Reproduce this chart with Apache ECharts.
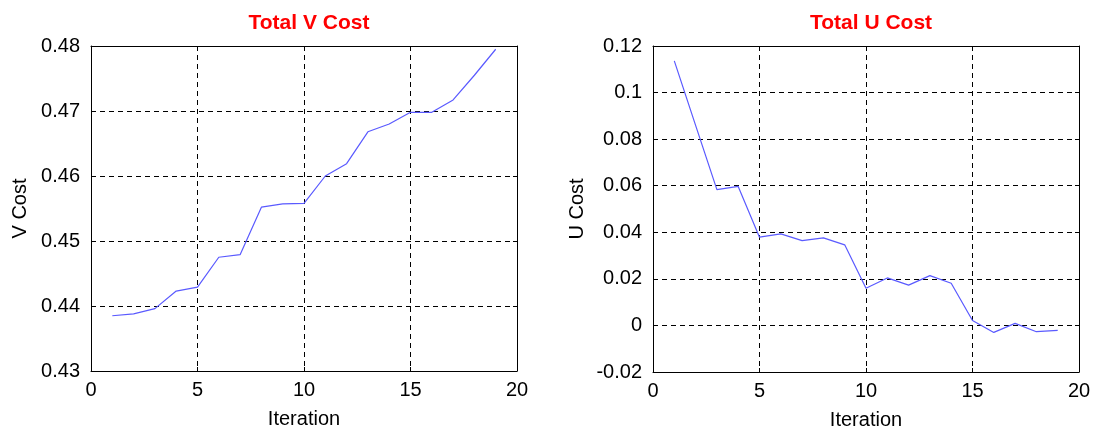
<!DOCTYPE html>
<html><head><meta charset="utf-8">
<script src="https://cdn.jsdelivr.net/npm/echarts@6/dist/echarts.min.js"></script>
<style>html,body{margin:0;padding:0;background:#fff}#c{width:1093px;height:430px}</style>
</head><body><div id="c"></div>
<script>
const iterations = [1,2,3,4,5,6,7,8,9,10,11,12,13,14,15,16,17,18,19];
const vCost = [0.4385,0.4388,0.4396,0.4423,0.4429,0.4475,0.4479,0.4552,0.4557,0.4558,0.4600,0.4619,0.4668,0.4680,0.4698,0.4698,0.4717,0.4755,0.4795];
const uCost = [0.1136,0.0859,0.0583,0.0597,0.0379,0.0393,0.0364,0.0376,0.0346,0.0160,0.0204,0.0173,0.0214,0.0181,0.0021,-0.0030,0.0009,-0.0027,-0.0021];
const xTicks = [0,5,10,15,20];
const vTicks = [0.43,0.44,0.45,0.46,0.47,0.48];
const uTicks = [-0.02,0,0.02,0.04,0.06,0.08,0.1,0.12];
const titles = ['Total V Cost','Total U Cost'];
const yNames = ['V Cost','U Cost'];
const xName = 'Iteration';

const FONT = 'Liberation Sans, Arial, sans-serif';
const chart = echarts.init(document.getElementById('c'), null, {renderer:'canvas'});
const grids = [
  {left:91, top:46, width:426, height:325},
  {left:653, top:46, width:426, height:326}
];
const yRanges = [
  {ticks:vTicks, fmt:v=>v.toFixed(2)},
  {ticks:uTicks, fmt:v=>{const r=Math.round(v*100)/100; return r===0?'0':String(r);}}
];
const xAxes=[], yAxes=[], series=[], title=[];
grids.forEach((g,i)=>{
  title.push({text:titles[i], left:g.left+g.width/2, top:8, textAlign:'center',
    textStyle:{color:'#ff0000', fontWeight:'bold', fontSize:21, fontFamily:FONT}});
  xAxes.push({type:'value', gridIndex:i, min:xTicks[0], max:xTicks[xTicks.length-1], interval:xTicks[1]-xTicks[0], position:'bottom',
    name:xName, nameLocation:'middle', nameGap:38, nameTextStyle:{fontSize:20, color:'#000', fontFamily:FONT},
    axisLine:{show:true, onZero:false, lineStyle:{color:'#000', width:1}},
    axisTick:{show:true, inside:true, length:4, lineStyle:{color:'#000'}},
    axisLabel:{fontSize:20, color:'#000', fontFamily:FONT, margin:9},
    splitLine:{show:true, lineStyle:{color:'#000', type:[5,4], width:1}}});
  xAxes.push({type:'value', gridIndex:i, min:xTicks[0], max:xTicks[xTicks.length-1], interval:xTicks[1]-xTicks[0], position:'top',
    axisLine:{show:true, onZero:false, lineStyle:{color:'#000', width:1}},
    axisTick:{show:true, inside:true, length:4, lineStyle:{color:'#000'}},
    axisLabel:{show:false}, splitLine:{show:false}});
  const yr = yRanges[i];
  const ymin = yr.ticks[0], ymax = yr.ticks[yr.ticks.length-1], yint = +(yr.ticks[1]-yr.ticks[0]).toFixed(4);
  yAxes.push({type:'value', gridIndex:i, min:ymin, max:ymax, interval:yint, position:'left',
    name:yNames[i], nameLocation:'middle', nameGap:i===0?61:66, nameTextStyle:{fontSize:20, color:'#000', fontFamily:FONT},
    axisLine:{show:true, onZero:false, lineStyle:{color:'#000', width:1}},
    axisTick:{show:true, inside:true, length:4, lineStyle:{color:'#000'}},
    axisLabel:{fontSize:20, color:'#000', fontFamily:FONT, margin:11, formatter:yr.fmt},
    splitLine:{show:true, lineStyle:{color:'#000', type:[5,4], width:1}}});
  yAxes.push({type:'value', gridIndex:i, min:ymin, max:ymax, interval:yint, position:'right',
    axisLine:{show:true, onZero:false, lineStyle:{color:'#000', width:1}},
    axisTick:{show:true, inside:true, length:4, lineStyle:{color:'#000'}},
    axisLabel:{show:false}, splitLine:{show:false}});
  const data = (i===0?vCost:uCost).map((v,k)=>[iterations[k], v]);
  series.push({type:'line', xAxisIndex:i*2, yAxisIndex:i*2, data:data, symbol:'none',
    lineStyle:{color:'#5a5aff', width:1.2}, silent:true, animation:false});
});
chart.setOption({
  animation:false,
  backgroundColor:'#fff',
  title:title,
  grid:grids.map(g=>Object.assign({containLabel:false, outerBoundsMode:'none'}, g)),
  xAxis:xAxes, yAxis:yAxes, series:series
});
</script></body></html>
